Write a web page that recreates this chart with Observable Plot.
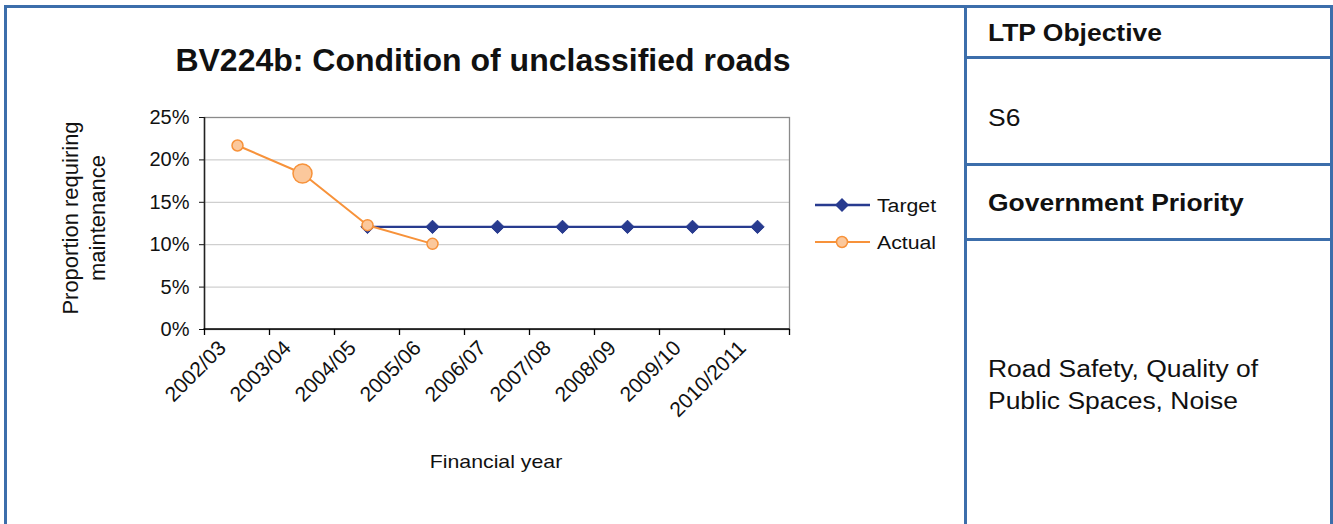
<!DOCTYPE html>
<html>
<head>
<meta charset="utf-8">
<script src="https://cdn.jsdelivr.net/npm/d3@7"></script>
<script src="https://cdn.jsdelivr.net/npm/@observablehq/plot@0.6"></script>
<style>
  html, body { margin: 0; padding: 0; background: #fff; }
  #page { position: relative; width: 1333px; height: 524px; overflow: hidden; background: #fff;
          font-family: "Liberation Sans", Arial, Helvetica, sans-serif; color: #111; }
  .bline { position: absolute; background: #3c6eab; z-index: 5; }
  .abs { position: absolute; white-space: nowrap; }
  .rtext { font-size: 23px; transform: scaleX(1.15); transform-origin: left center; line-height: 32px; }
  #chart { position: absolute; left: 0; top: 0; }
</style>
</head>
<body>
<div id="page">
  <div class="bline" style="left:4px; top:5px; width:1329px; height:3px;"></div>
  <div class="bline" style="left:4px; top:5px; width:3px; height:530px;"></div>
  <div class="bline" style="left:964px; top:5px; width:3px; height:530px;"></div>
  <div class="bline" style="left:1330px; top:5px; width:3px; height:530px;"></div>
  <div class="bline" style="left:964px; top:56px; width:369px; height:3px;"></div>
  <div class="bline" style="left:964px; top:163px; width:369px; height:3px;"></div>
  <div class="bline" style="left:964px; top:238px; width:369px; height:3px;"></div>

  <div class="abs rtext" style="left:988px; top:17px; font-weight:bold;">LTP Objective</div>
  <div class="abs rtext" style="left:988px; top:102px;">S6</div>
  <div class="abs rtext" style="left:988px; top:187px; font-weight:bold;">Government Priority</div>
  <div class="abs rtext" style="left:988px; top:353px;">Road Safety, Quality of<br>Public Spaces, Noise</div>

  <div id="chart"></div>

  <div class="abs" id="title" style="left:483px; top:60px; transform:translate(-50%,-50%); font-size:32px; font-weight:bold;">BV224b: Condition of unclassified roads</div>
  <div class="abs" id="ylabel" style="left:84px; top:218px; transform:translate(-50%,-50%) rotate(-90deg); font-size:22px; line-height:27px; text-align:center;">Proportion requiring<br>maintenance</div>
  <div class="abs" id="xlabel" style="left:496px; top:462px; transform:translate(-50%,-50%) scaleX(1.12); font-size:19px;">Financial year</div>
  <div class="abs" id="legend" style="left:812px; top:188px;"></div>
</div>
<script>
// ---- data ----
const years = ["2002/03","2003/04","2004/05","2005/06","2006/07","2007/08","2008/09","2009/10","2010/2011"];
const targetYears = ["2004/05","2005/06","2006/07","2007/08","2008/09","2009/10","2010/2011"];
const targetValues = [0.121,0.121,0.121,0.121,0.121,0.121,0.121];
const actualYears = ["2002/03","2003/04","2004/05","2005/06"];
const actualValues = [0.217,0.184,0.123,0.101];
const yTicks = [0,0.05,0.10,0.15,0.20,0.25];
const highlightYear = "2003/04";
const seriesNames = ["Target","Actual"];

// ---- styles ----
const navy = "#283b8f";
const orange = "#f7923a";
const peach = "#fbc89c";

const target = targetYears.map((y,i)=>({year:y, value:targetValues[i]}));
const actual = actualYears.map((y,i)=>({year:y, value:actualValues[i]}));

const diamond = {
  draw(ctx, size) {
    const r = Math.sqrt(size) * 0.63;
    ctx.moveTo(0,-r); ctx.lineTo(r,0); ctx.lineTo(0,r); ctx.lineTo(-r,0); ctx.closePath();
  }
};

function axisDecor(index, scales, values, dimensions) {
  const x = scales.x, y = scales.y;
  const step = x(years[1]) - x(years[0]);
  const y0 = y(0), yTop = y(d3.max(yTicks));
  const g = d3.create("svg:g");
  const left = x(years[0]) - step/2, right = x(years[years.length-1]) + step/2;
  years.concat([null]).forEach((c,i)=>{
    const xx = c === null ? right : x(c) - step/2;
    g.append("line").attr("x1",xx).attr("x2",xx).attr("y1",y0).attr("y2",y0+6)
      .attr("stroke","#000").attr("stroke-width",1.3);
  });
  g.append("line").attr("x1",left).attr("x2",left).attr("y1",yTop).attr("y2",y0)
    .attr("stroke","#222").attr("stroke-width",1.5);
  g.append("line").attr("x1",left-1).attr("x2",right).attr("y1",y0).attr("y2",y0)
    .attr("stroke","#000").attr("stroke-width",1.5);
  return g.node();
}

const chart = Plot.plot({
  width: 960,
  height: 524,
  marginLeft: 204,
  marginRight: 171,
  marginTop: 117,
  marginBottom: 195,
  style: {background: "transparent", fontFamily: "'Liberation Sans', Arial, sans-serif", fontSize: "20px", color: "#111", overflow: "visible"},
  x: {type: "point", domain: years, padding: 0.5, label: null},
  y: {domain: [0, 0.25], label: null},
  marks: [
    Plot.ruleY(yTicks, {stroke: "#c4c4c4", strokeWidth: 1}),
    Plot.frame({stroke: "#8a8a8a", strokeWidth: 1.3}),
    Plot.axisY({ticks: yTicks, tickFormat: d3.format(".0%"), tickSize: 5, tickPadding: 10, label: null, fontSize: 20}),
    Plot.axisX({tickSize: 0, tickRotate: -45, tickPadding: 15, textAnchor: "end", label: null, fontSize: 21, dx: -15}),
    axisDecor,
    Plot.line(target, {x: "year", y: "value", stroke: navy, strokeWidth: 2.3}),
    Plot.dot(target, {x: "year", y: "value", symbol: diamond, r: 6, fill: navy, stroke: navy, strokeWidth: 1}),
    Plot.line(actual, {x: "year", y: "value", stroke: orange, strokeWidth: 2}),
    Plot.dot(actual.filter(d=>d.year!==highlightYear), {x: "year", y: "value", r: 5.5, fill: peach, stroke: orange, strokeWidth: 1.5}),
    Plot.dot(actual.filter(d=>d.year===highlightYear), {x: "year", y: "value", r: 9.5, fill: peach, stroke: orange, strokeWidth: 1.5})
  ]
});
document.getElementById("chart").appendChild(chart);

// ---- legend ----
const leg = d3.select("#legend").append("svg").attr("width", 140).attr("height", 72)
  .style("overflow","visible").style("font-family","'Liberation Sans', Arial, sans-serif");
seriesNames.forEach((name,i)=>{
  const cy = 17 + i*37;
  const col = i === 0 ? navy : orange;
  leg.append("line").attr("x1",3).attr("x2",58).attr("y1",cy).attr("y2",cy).attr("stroke",col).attr("stroke-width", i===0?2.3:2);
  if (i === 0) {
    leg.append("path").attr("d", `M30,${cy-7}L37,${cy}L30,${cy+7}L23,${cy}Z`).attr("fill",navy);
  } else {
    leg.append("circle").attr("cx",30).attr("cy",cy).attr("r",5.5).attr("fill",peach).attr("stroke",orange).attr("stroke-width",1.5);
  }
  leg.append("text").attr("x",65).attr("y",cy).attr("dy","0.35em").attr("font-size",19)
    .attr("transform",`translate(65,0) scale(1.12,1) translate(-65,0)`).attr("fill","#111").text(name);
});
</script>
</body>
</html>
